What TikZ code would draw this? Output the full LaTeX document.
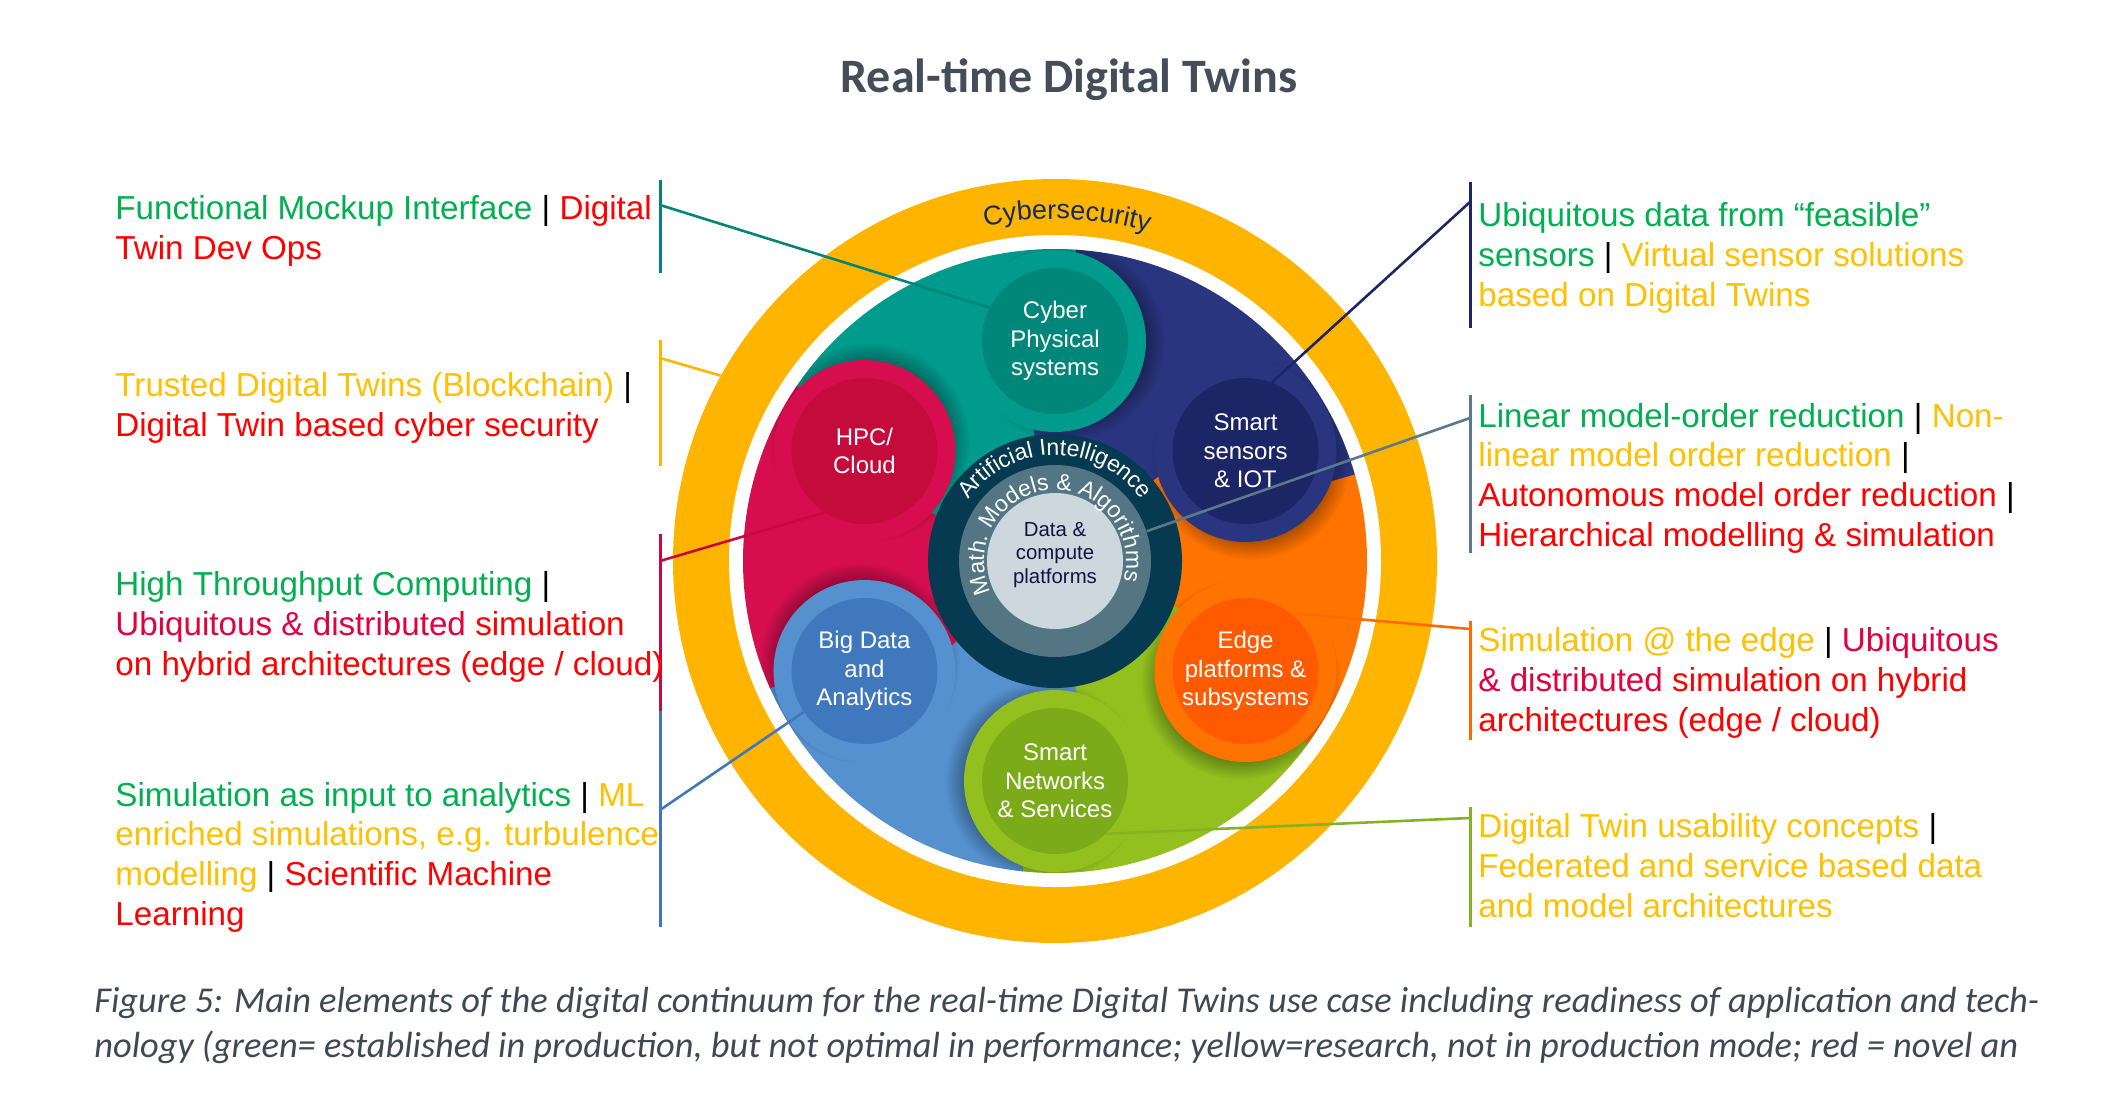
\documentclass[tikz,border=0pt]{standalone}
\usepackage{fontspec}
\setmainfont{Liberation Sans}
\newfontfamily\calibrifont{Carlito}
\usetikzlibrary{decorations.text,fadings}

% ring and sector colours
\definecolor{ringY}{HTML}{FFB400}
\definecolor{wTeal}{HTML}{009B8C}\definecolor{dTeal}{HTML}{00877A}
\definecolor{wNavy}{HTML}{29357F}\definecolor{dNavy}{HTML}{1C2566}
\definecolor{wOrange}{HTML}{FF7300}\definecolor{dOrange}{HTML}{FF5A00}
\definecolor{wGreen}{HTML}{93C01F}\definecolor{dGreen}{HTML}{7BAB18}
\definecolor{wBlue}{HTML}{5591CF}\definecolor{dBlue}{HTML}{4078BE}
\definecolor{wCrim}{HTML}{D60E50}\definecolor{dCrim}{HTML}{C50A3C}
\definecolor{cDark}{HTML}{053A50}\definecolor{cRing}{HTML}{537584}
\definecolor{cLight}{HTML}{CDD8DE}\definecolor{cText}{HTML}{0E1640}
\definecolor{cyberText}{HTML}{15296A}
\definecolor{titleGray}{HTML}{444D58}
\definecolor{capGray}{HTML}{404854}
% label text colours
\definecolor{txtG}{HTML}{00B050}\definecolor{txtR}{HTML}{FF0000}
\definecolor{txtY}{HTML}{FFC000}\definecolor{txtC}{HTML}{E2003E}
% connector colours
\definecolor{lnTeal}{HTML}{00857A}\definecolor{lnYel}{HTML}{FFB400}
\definecolor{lnCrim}{HTML}{C8083F}\definecolor{lnBlue}{HTML}{4177BD}
\definecolor{lnNavy}{HTML}{1C2566}\definecolor{lnSlate}{HTML}{587A8A}
\definecolor{lnOrange}{HTML}{FF6A00}\definecolor{lnGreen}{HTML}{84B225}

\newcommand\arcAfont{\fontsize{11.5}{12}\selectfont\color{white}}
\newcommand\arcBfont{\fontsize{11.5}{12}\selectfont\color{white}}
\newcommand\cyberfont{\fontsize{13.5}{14}\selectfont\color{cyberText}}
\newcommand\G[1]{\textcolor{txtG}{#1}}
\newcommand\R[1]{\textcolor{txtR}{#1}}
\newcommand\Y[1]{\textcolor{txtY}{#1}}
\newcommand\Cr[1]{\textcolor{txtC}{#1}}

\begin{document}
\begin{tikzpicture}[x=0.5pt,y=0.5pt,
  disc/.style={circle, inner sep=0pt, minimum size=#1},
  lobetext/.style={align=center, text=white, inner sep=0pt,
    font=\fontsize{12}{14.2}\selectfont},
  label/.style={anchor=base west, align=left, inner sep=0pt,
    font=\fontsize{16.6}{19.8}\selectfont},
  bar/.style={line width=1.5pt},
  conn/.style={line width=1.3pt}]
\useasboundingbox (0,0) rectangle (2116,-1098);

% heading
\node[anchor=base, font=\calibrifont\bfseries\fontsize{24}{28}\selectfont, text=titleGray]
  (title) at (1069,-92) {Real-time Digital Twins};

\begin{scope}[shift={(1055,-561)}]
  % outer cybersecurity ring and white gap
  \node[disc=382pt, fill=ringY] (cyb) at (0,0) {};
  \node[disc=326pt, fill=white] (gap) at (0,0) {};

  % swirl of six sectors, each with its lobe
  % (angle / colour / own outer offset / outer offset of the next sector)
  \begin{scope}
    \clip (0,0) circle[radius=312];
    \foreach \t/\c/\a/\b in {90/wTeal/-4/-4, 30/wNavy/-14/-4, -30/wOrange/-6/-14,
                             -90/wGreen/-6/-6, -150/wBlue/-6/-6, 150/wCrim/-4/-6}
      \filldraw[fill=\c, draw=\c, line width=0.5pt]
        (0,0) -- (\t+9:138) -- (\t:220) -- (\t+\a:280) -- (\t+\a:420) -- (\t+30:420)
        -- (\t+60+\b:420) -- (\t+60+\b:280) -- (\t+60:220) -- (\t+69:138) -- cycle;
    \foreach \t in {90,30,-30,-90,-150,150}
      \fill[black, opacity=0.32, path fading=circle with fuzzy edge 20 percent,
            shift={(\t-90:10)}] (\t:220) circle[radius=100];
    \foreach \t/\c in {90/wTeal, 30/wNavy, -30/wOrange, -90/wGreen, -150/wBlue, 150/wCrim}
      \fill[\c] (\t:220) circle[radius=91];
  \end{scope}

  % inner lobe discs with their names
  \node[disc=73pt, fill=dTeal]   (cps)  at (90:220)   {};
  \node[disc=73pt, fill=dNavy]   (sss)  at (30:220)   {};
  \node[disc=73pt, fill=dOrange] (edge) at (-30:220)  {};
  \node[disc=73pt, fill=dGreen]  (snet) at (-90:220)  {};
  \node[disc=73pt, fill=dBlue]   (bigd) at (-150:220) {};
  \node[disc=73pt, fill=dCrim]   (hpc)  at (150:220)  {};
  \node[lobetext] (cpsT)  at (cps)  {Cyber\\Physical\\systems};
  \node[lobetext] (sssT)  at (sss)  {Smart\\sensors\\\& IOT};
  \node[lobetext] (edgeT) at (edge) {Edge\\platforms \&\\subsystems};
  \node[lobetext] (snetT) at (snet) {Smart\\Networks\\\& Services};
  \node[lobetext] (bigdT) at (bigd) {Big Data\\and\\Analytics};
  \node[lobetext] (hpcT)  at (hpc)  {HPC/\\Cloud};

  % core rings
  \node[disc=127pt, fill=cDark] (core) at (0,0) {};
  \node[disc=96pt, fill=cRing] (ring) at (0,0) {};
  \node[disc=68pt, fill=cLight] (data) at (0,0) {};
  \node[align=center, inner sep=0pt, text=cText, font=\fontsize{10.2}{11.8}\selectfont]
    (dataT) at (0,6) {Data \&\\compute\\platforms};

  % curved captions
  \path[decorate, decoration={text along path, text align=center,
      text={|\arcAfont|Artificial Intelligence}}]
    (170:106) arc[start angle=170, end angle=10, radius=106];
  \path[decorate, decoration={text along path, text align=center,
      text={|\arcBfont|Math. Models {\&} Algorithms}}]
    (220:71) arc[start angle=220, end angle=-30, radius=71];
  \path[decorate, decoration={text along path, text align=center,
      text={|\cyberfont|Cybersecurity}}]
    (125:342) arc[start angle=125, end angle=51, radius=342];
\end{scope}

% bracket bars
\coordinate (lb1t) at (660,-180); \coordinate (lb1b) at (660,-273); \coordinate (lj1) at (660,-205);
\coordinate (lb2t) at (660,-340); \coordinate (lb2b) at (660,-466); \coordinate (lj2) at (660,-358);
\coordinate (lb3t) at (660,-534); \coordinate (lb3b) at (660,-712); \coordinate (lj3) at (660,-561);
\coordinate (lb4t) at (660,-711); \coordinate (lb4b) at (660,-927); \coordinate (lj4) at (660,-810);
\coordinate (rb1t) at (1470,-182); \coordinate (rb1b) at (1470,-328); \coordinate (rj1) at (1470,-202);
\coordinate (rb2t) at (1470,-395); \coordinate (rb2b) at (1470,-553); \coordinate (rj2) at (1470,-418);
\coordinate (rb3t) at (1470,-621); \coordinate (rb3b) at (1470,-740); \coordinate (rj3) at (1470,-629);
\coordinate (rb4t) at (1470,-807); \coordinate (rb4b) at (1470,-927); \coordinate (rj4) at (1470,-818);

\draw[bar, lnTeal]   (lb1t) -- (lb1b);
\draw[bar, lnYel]    (lb2t) -- (lb2b);
\draw[bar, lnCrim]   (lb3t) -- (lb3b);
\draw[bar, lnBlue]   (lb4t) -- (lb4b);
\draw[bar, lnNavy]   (rb1t) -- (rb1b);
\draw[bar, lnSlate]  (rb2t) -- (rb2b);
\draw[bar, lnOrange] (rb3t) -- (rb3b);
\draw[bar, lnGreen]  (rb4t) -- (rb4b);

% connectors
\draw[conn, lnTeal]   (lj1) -- (cps.153);
\draw[conn, lnYel]    (lj2) -- (cyb.151);
\draw[conn, lnCrim]   (lj3) -- (hpc.237);
\draw[conn, lnBlue]   (lj4) -- (bigd.214);
\draw[conn, lnNavy]   (rj1) -- (sss.69);
\draw[conn, lnSlate]  (rj2) -- (ring.18);
\draw[conn, lnOrange] (rj3) -- (edge.52);
\draw[conn, lnGreen]  (rj4) -- (snet.-46);

% left labels (anchored at the baseline of their last line)
\node[label] (l1) at (115,-259) {\G{Functional Mockup Interface} | \R{Digital}\\\R{Twin Dev Ops}};
\node[label] (l2) at (115,-436) {\Y{Trusted Digital Twins (Blockchain)} |\\\R{Digital Twin based cyber security}};
\node[label] (l3) at (115,-675) {\G{High Throughput Computing} |\\\Cr{Ubiquitous \& distributed} \R{simulation}\\\R{on hybrid architectures (edge / cloud)}};
\node[label] (l4) at (115,-925) {\G{Simulation as input to analytics} | \Y{ML}\\\Y{enriched simulations, e.g. turbulence}\\\Y{modelling} | \R{Scientific Machine}\\\R{Learning}};

% right labels
\node[label] (r1) at (1478,-306) {\G{Ubiquitous data from “feasible”}\\\G{sensors} | \Y{Virtual sensor solutions}\\\Y{based on Digital Twins}};
\node[label] (r2) at (1478,-546) {\G{Linear model-order reduction} | \Y{Non-}\\\Y{linear model order reduction} |\\\R{Autonomous model order reduction} |\\\R{Hierarchical modelling \& simulation}};
\node[label] (r3) at (1478,-731) {\Y{Simulation @ the edge} | \Cr{Ubiquitous}\\\Cr{\& distributed} \R{simulation on hybrid}\\\R{architectures (edge / cloud)}};
\node[label] (r4) at (1478,-917) {\Y{Digital Twin usability concepts} |\\\Y{Federated and service based data}\\\Y{and model architectures}};

% figure caption
\node[anchor=base west, align=left, inner sep=0pt, text=capGray,
      font=\calibrifont\itshape\fontsize{18.2}{22.5}\selectfont] (cap) at (94,-1057)
  {Figure 5: Main elements of the digital continuum for the real-time Digital Twins use case including readiness of application and tech-\\
   nology (green= established in production, but not optimal in performance; yellow=research, not in production mode; red = novel an};
\end{tikzpicture}
\end{document}
